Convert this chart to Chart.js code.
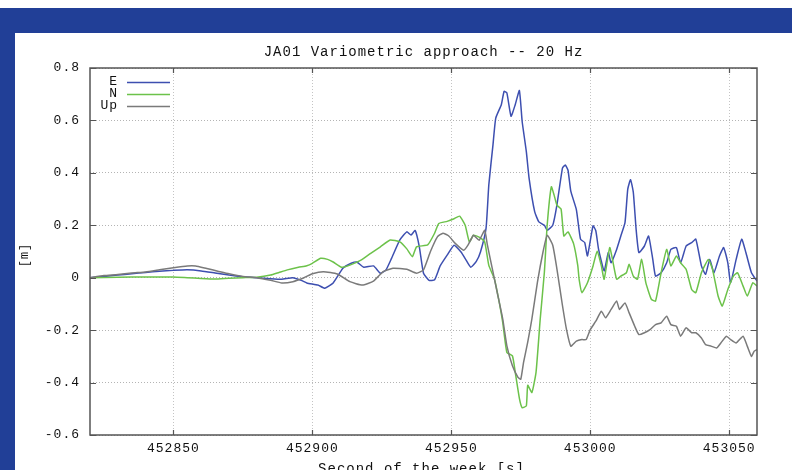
<!DOCTYPE html>
<html>
<head>
<meta charset="utf-8">
<script src="https://cdn.jsdelivr.net/npm/chart.js@4.4.1/dist/chart.umd.min.js"></script>
<style>
  html, body { margin: 0; padding: 0; background: #ffffff; }
  #c { display: block; }
</style>
</head>
<body>
<canvas id="c" width="792" height="470"></canvas>
<script>
const chartTitle = 'JA01 Variometric approach -- 20 Hz';
const xAxisTitle = 'Second of the week [s]';
const yAxisTitle = '[m]';
const seriesNames = ['E', 'N', 'Up'];
const xTicks = [452850, 452900, 452950, 453000, 453050];
const yTicks = [-0.6, -0.4, -0.2, 0, 0.2, 0.4, 0.6, 0.8];

const timeE = [452820,452825,452830,452835,452840,452845,452850,452855,452860,452865,452870,452875,452880,452885,452889,452893,452896,452898,452902,452904.5,452907.5,452911,452914,452916,452918.5,452922,452924.5,452926.5,452928.5,452931.5,452934,452935.5,452937,452938.5,452940,452942,452944,452946,452948.5,452951,452953.5,452955,452957,452959,452960.5,452962.5,452963.5,452965,452966,452968,452969,452970,452971.5,452973,452974.5,452975.5,452977,452978,452980,452981.5,452983.5,452984.5,452986.5,452988,452990,452991,452992,452993,452995,452996.5,452998,452999,453001,453002,453003,453005,453006.5,453007.5,453009.5,453011,453012.5,453013.5,453014.5,453015.5,453016.5,453017.5,453019.5,453021,453022.5,453023.5,453025.5,453027.5,453029,453031,453032.5,453034.5,453036.5,453038,453040,453041.5,453043,453044.5,453046.5,453048,453049.5,453050.5,453052.5,453054.5,453056,453058,453060];
const valuesE = [0,0.005,0.01,0.015,0.02,0.025,0.028,0.03,0.026,0.018,0.01,0.004,0,-0.004,-0.006,0,-0.01,-0.02,-0.028,-0.04,-0.02,0.036,0.055,0.06,0.04,0.045,0.017,0.03,0.074,0.144,0.175,0.163,0.18,0.118,0.017,-0.01,-0.008,0.045,0.086,0.124,0.098,0.073,0.04,0.062,0.098,0.188,0.354,0.507,0.609,0.66,0.711,0.705,0.616,0.66,0.714,0.596,0.481,0.379,0.252,0.213,0.2,0.181,0.2,0.277,0.418,0.43,0.41,0.33,0.26,0.147,0.134,0.083,0.198,0.179,0.108,0.026,0.096,0.057,0.108,0.159,0.21,0.338,0.374,0.325,0.185,0.096,0.121,0.159,0.07,0.006,0.019,0.057,0.108,0.115,0.057,0.121,0.134,0.147,0.045,0.013,0.07,0.019,0.083,0.115,0.057,-0.019,0.07,0.147,0.096,0.019,-0.013];

const timeN = [452820,452830,452840,452850,452855,452860,452865,452870,452875,452880,452885,452888,452891,452895,452898,452900,452903,452905.5,452907.5,452910.5,452913.5,452917.5,452921,452924.5,452928,452931.5,452934,452936,452937.5,452941.5,452944,452945.5,452948.5,452951,452953,452955,452956.5,452958,452960,452962,452963.5,452965.5,452967,452968.5,452970,452972,452973,452974.5,452975.5,452977,452977.5,452979,452980.5,452982,452983.5,452984.5,452986,452987,452988,452989.5,452990.5,452992,452994,452995.5,452996,452997,452999,453001,453002.5,453004,453005,453007,453008,453009.5,453011,453013,453014,453015.5,453017,453018.5,453020,453022,453023.5,453025.5,453027.5,453029,453031,453032.5,453034.5,453036.5,453038,453040,453042.5,453044,453046,453047.5,453049.5,453051.5,453053,453055,453056.5,453058.5,453060];
const valuesN = [0,0.002,0.003,0.003,0,-0.003,-0.005,-0.002,0,0.002,0.01,0.02,0.03,0.04,0.046,0.055,0.074,0.07,0.06,0.04,0.048,0.067,0.093,0.118,0.144,0.137,0.11,0.08,0.118,0.125,0.17,0.207,0.215,0.225,0.235,0.2,0.137,0.162,0.155,0.137,0.047,-0.004,-0.08,-0.17,-0.285,-0.298,-0.36,-0.46,-0.496,-0.489,-0.41,-0.438,-0.36,-0.157,0.022,0.2,0.347,0.315,0.277,0.262,0.159,0.175,0.13,0.047,-0.006,-0.057,-0.019,0.045,0.102,0.045,-0.006,0.115,0.07,-0.006,0.006,0.019,0.051,0.006,-0.006,0.07,-0.019,-0.083,-0.089,0.019,0.108,0.045,0.083,0.057,0.032,-0.045,-0.057,0.019,0.07,0.032,-0.07,-0.108,-0.045,0.006,0.019,-0.032,-0.07,-0.019,-0.032];

const timeUp = [452820,452825,452830,452835,452840,452845,452850,452855,452858,452862,452866,452870,452875,452880,452885,452889,452893,452897,452900,452904,452909,452913.5,452918,452922,452925.5,452929,452934,452937.5,452940,452942.5,452945,452947,452949,452951.5,452954.5,452956,452958,452960,452962,452963,452965,452966.5,452968.5,452970,452972,452974,452975,452976,452977.5,452979,452981,452983,452984.5,452986.5,452988,452990,452991.5,452993,452995,452997,452998.5,453000,453002,453004,453005.5,453007.5,453009.5,453010.5,453012.5,453014,453016,453017.5,453019.5,453021.5,453023.5,453025.5,453027.5,453029,453031,453032.5,453034.5,453036.5,453038,453040,453041.5,453043.5,453045.5,453047,453049,453050.5,453052.5,453055,453056.5,453058,453059,453060];
const valuesUp = [0,0.008,0.012,0.018,0.022,0.03,0.038,0.045,0.045,0.035,0.025,0.015,0.005,0,-0.01,-0.02,-0.015,0,0.015,0.023,0.014,-0.015,-0.028,-0.013,0.023,0.036,0.032,0.017,0.03,0.1,0.156,0.17,0.16,0.13,0.105,0.124,0.162,0.143,0.181,0.124,0.022,-0.055,-0.157,-0.26,-0.336,-0.38,-0.387,-0.323,-0.246,-0.157,-0.017,0.098,0.162,0.124,0.034,-0.106,-0.2,-0.261,-0.242,-0.236,-0.236,-0.198,-0.166,-0.128,-0.153,-0.121,-0.089,-0.121,-0.096,-0.134,-0.185,-0.217,-0.21,-0.198,-0.179,-0.172,-0.147,-0.179,-0.185,-0.223,-0.191,-0.21,-0.21,-0.23,-0.255,-0.261,-0.268,-0.249,-0.223,-0.236,-0.249,-0.223,-0.261,-0.3,-0.28,-0.274];

const colors = ['#3d4fb0', '#6cc24a', '#7a7a7a'];
const MONO = '"Liberation Mono", "DejaVu Sans Mono", monospace';

function pts(ts, vs) { return ts.map((t, i) => ({ x: t, y: vs[i] })); }

const framePlugin = {
  id: 'frame',
  beforeDraw(chart) {
    const ctx = chart.ctx;
    ctx.fillStyle = '#ffffff';
    ctx.fillRect(0, 0, chart.width, chart.height);
    ctx.fillStyle = '#213f97';
    ctx.fillRect(0, 8, chart.width, 25);
    ctx.fillRect(0, 8, 15, chart.height - 8);
    if ('letterSpacing' in ctx) ctx.letterSpacing = '1px';
  },
  afterDatasetsDraw(chart) {
    const ctx = chart.ctx;
    const a = chart.chartArea;
    const xs = chart.scales.x, ys = chart.scales.y;
    ctx.save();
    ctx.strokeStyle = '#555555';
    ctx.lineWidth = 1.5;
    ctx.strokeRect(a.left, a.top, a.right - a.left, a.bottom - a.top);
    ctx.lineWidth = 1.2;
    ctx.beginPath();
    xs.ticks.forEach(t => {
      const px = Math.round(xs.getPixelForValue(t.value)) + 0.5;
      ctx.moveTo(px, a.bottom); ctx.lineTo(px, a.bottom - 5);
      ctx.moveTo(px, a.top); ctx.lineTo(px, a.top + 5);
    });
    ys.ticks.forEach(t => {
      const py = Math.round(ys.getPixelForValue(t.value)) + 0.5;
      ctx.moveTo(a.left, py); ctx.lineTo(a.left + 6, py);
      ctx.moveTo(a.right, py); ctx.lineTo(a.right - 6, py);
    });
    ctx.stroke();
    // legend
    ctx.font = '13px ' + MONO;
    ctx.textAlign = 'right';
    ctx.textBaseline = 'middle';
    const rows = [82, 94, 106];
    chart.data.datasets.forEach((ds, i) => {
      ctx.fillStyle = '#111111';
      ctx.fillText(ds.label, 118, rows[i]);
      ctx.strokeStyle = ds.borderColor;
      ctx.lineWidth = 1.3;
      ctx.beginPath();
      ctx.moveTo(127, rows[i] + 0.5);
      ctx.lineTo(170, rows[i] + 0.5);
      ctx.stroke();
    });
    // titles
    ctx.fillStyle = '#111111';
    ctx.font = '14px ' + MONO;
    ctx.textAlign = 'center';
    ctx.textBaseline = 'middle';
    ctx.fillText(chartTitle, (a.left + a.right) / 2, 52);
    ctx.fillText(xAxisTitle, (a.left + a.right) / 2 - 2, 469);
    ctx.translate(25, 255);
    ctx.rotate(-Math.PI / 2);
    ctx.font = '12px ' + MONO;
    ctx.fillText(yAxisTitle, 0, 0);
    ctx.restore();
  }
};

new Chart(document.getElementById('c'), {
  type: 'line',
  data: {
    datasets: [
      { label: seriesNames[0], data: pts(timeE, valuesE), borderColor: colors[0], order: 3 },
      { label: seriesNames[1], data: pts(timeN, valuesN), borderColor: colors[1], order: 2 },
      { label: seriesNames[2], data: pts(timeUp, valuesUp), borderColor: colors[2], order: 1 }
    ].map(d => Object.assign(d, { borderWidth: 1.5, pointRadius: 0, tension: 0.15, fill: false }))
  },
  options: {
    responsive: false,
    animation: false,
    devicePixelRatio: 1,
    layout: { padding: { top: 68, left: 15, right: 35, bottom: 0 } },
    plugins: { legend: { display: false }, title: { display: false }, tooltip: { enabled: false } },
    scales: {
      x: {
        type: 'linear',
        min: 452820,
        max: 453060,
        afterBuildTicks: s => { s.ticks = xTicks.map(v => ({ value: v })); },
        afterFit: s => { s.height = 35; },
        grid: { color: '#c4c4c4', drawTicks: false, lineWidth: 1 },
        border: { display: false, dash: [1, 2] },
        ticks: { padding: 6, color: '#111111', font: { family: MONO, size: 13 }, maxRotation: 0, callback: v => String(v) }
      },
      y: {
        type: 'linear',
        min: -0.6,
        max: 0.8,
        afterBuildTicks: s => { s.ticks = yTicks.map(v => ({ value: v })); },
        afterFit: s => { s.width = 75; },
        grid: { color: '#b4b4b4', drawTicks: false, lineWidth: 1 },
        border: { display: false, dash: [1, 2] },
        ticks: { padding: 10, color: '#111111', font: { family: MONO, size: 13 }, callback: v => (Math.abs(v) < 1e-9 ? '0' : v.toFixed(1)) }
      }
    }
  },
  plugins: [framePlugin]
});
</script>
</body>
</html>
